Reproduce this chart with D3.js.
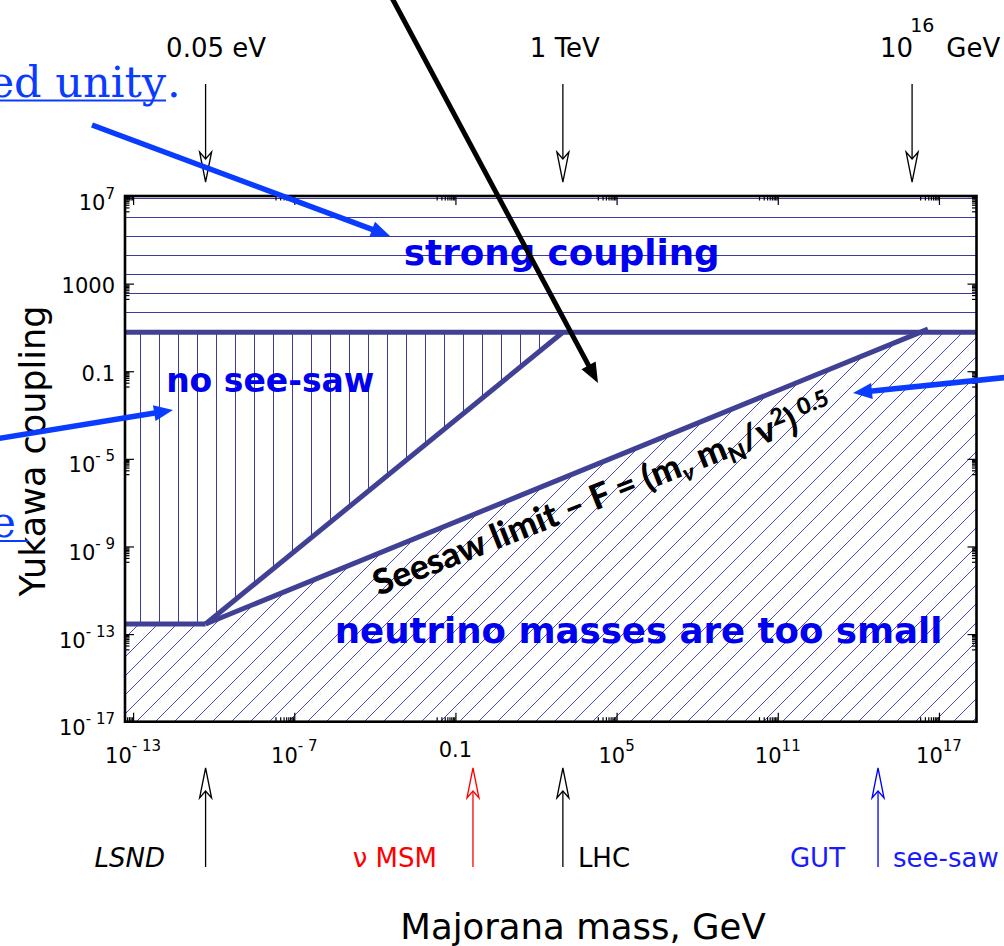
<!DOCTYPE html>
<html>
<head>
<meta charset="utf-8">
<script src="https://cdn.jsdelivr.net/npm/d3@7"></script>
<style>
  html, body { margin: 0; padding: 0; background: #fff; }
  svg { display: block; }
</style>
</head>
<body>
<svg id="chart" width="1004" height="946"></svg>
<script>
// ---- Axis domains and ticks -------------------------------------------
const massDomain = [5e-14, 2.5e18];        // Majorana mass, GeV
const couplingDomain = [1e-17, 1e7];       // Yukawa coupling
const massTicks = [1e-13, 1e-7, 1e-1, 1e5, 1e11, 1e17];
const massTickLabels = [["10", "- 13"], ["10", "- 7"], ["0.1", null], ["10", "5"], ["10", "11"], ["10", "17"]];
const couplingTicks = [1e7, 1e3, 1e-1, 1e-5, 1e-9, 1e-13, 1e-17];
const couplingTickLabels = [["10", "7"], ["1000", null], ["0.1", null], ["10", "- 5"], ["10", "- 9"], ["10", "- 13"], ["10", "- 17"]];

// ---- Boundaries (mass, coupling) -----------------------------------------
const strongLimit   = [[5e-14, 6], [2.5e18, 6]];
const lightLimit    = [[5e-14, 2.9e-13], [5e-11, 2.9e-13]];
const noSeesawEdge  = [[5e-11, 2.9e-13], [1e3, 6]];
const seesawEdge    = [[5e-11, 2.9e-13], [3.9e16, 8.4]];

// ---- Regions -------------------------------------------------------------
const strongRegion   = [[5e-14, 6], [2.5e18, 6], [2.5e18, 1e7], [5e-14, 1e7]];
const noSeesawRegion = [[5e-14, 6], [5e-14, 2.9e-13], [5e-11, 2.9e-13], [1e3, 6]];
const tooSmallRegion = [[5e-14, 1e-17], [5e-14, 2.9e-13], [5e-11, 2.9e-13], [2.2e16, 6], [2.5e18, 6], [2.5e18, 1e-17]];

// ---- Reference scales marked above and below the plot --------------------
const topMarkerMass   = [5e-11, 1e3, 1e16];
const topMarkerNames  = ["0.05 eV", "1 TeV", "10^16 GeV"];
const bottomMarkerMass  = [5e-11, 0.45, 1e3, 5.4e14];
const bottomMarkerNames = ["LSND", "νMSM", "LHC", "GUT|see-saw"];
const bottomMarkerColors = ["#000000", "#ff0000", "#000000", "#0000ff"];

// ---- Layout --------------------------------------------------------------
const W = 1004, H = 946;
const plot = { left: 125, right: 976.5, top: 196, bottom: 721.7 };
const lineColor = "#404095";
const hatchColor = "#3b3b9b";
const labelBlue = "#0000f0";
const linkBlue = "#0a3cff";

const svg = d3.select("#chart");
const x = d3.scaleLog().domain(massDomain).range([plot.left, plot.right]);
const y = d3.scaleLog().domain(couplingDomain).range([plot.bottom, plot.top]);
const line = d3.line().x(d => x(d[0])).y(d => y(d[1]));
const area = d3.line().x(d => x(d[0])).y(d => y(d[1])).curve(d3.curveLinearClosed);

// ---- Hatch patterns --------------------------------------------------------
const defs = svg.append("defs");
const step = 19;
const hp = defs.append("pattern").attr("id", "hatchH").attr("patternUnits", "userSpaceOnUse")
  .attr("width", step).attr("height", step).attr("x", 0).attr("y", 0);
hp.append("line").attr("x1", 0).attr("x2", step).attr("y1", 8.5).attr("y2", 8.5)
  .attr("stroke", hatchColor).attr("stroke-width", 1);
const vp = defs.append("pattern").attr("id", "hatchV").attr("patternUnits", "userSpaceOnUse")
  .attr("width", step).attr("height", step).attr("x", 0).attr("y", 0);
vp.append("line").attr("y1", 0).attr("y2", step).attr("x1", 7.5).attr("x2", 7.5)
  .attr("stroke", hatchColor).attr("stroke-width", 1);
const dp = defs.append("pattern").attr("id", "hatchD").attr("patternUnits", "userSpaceOnUse")
  .attr("width", step).attr("height", step).attr("x", 3).attr("y", 0);
dp.append("path").attr("d", `M0,${step} L${step},0 M${-step / 2},${step / 2} L${step / 2},${-step / 2} M${step / 2},${step * 1.5} L${step * 1.5},${step / 2}`)
  .attr("stroke", "#3636c0").attr("stroke-width", 0.9).attr("fill", "none");

defs.append("clipPath").attr("id", "plotClip").append("rect")
  .attr("x", plot.left).attr("y", plot.top)
  .attr("width", plot.right - plot.left).attr("height", plot.bottom - plot.top);

// ---- Regions and boundaries ----------------------------------------------
const g = svg.append("g").attr("clip-path", "url(#plotClip)");
g.append("path").attr("d", area(strongRegion)).attr("fill", "url(#hatchH)");
g.append("path").attr("d", area(noSeesawRegion)).attr("fill", "url(#hatchV)");
g.append("path").attr("d", area(tooSmallRegion)).attr("fill", "url(#hatchD)");

[strongLimit, lightLimit, noSeesawEdge, seesawEdge].forEach(pts => {
  g.append("path").attr("d", line(pts)).attr("fill", "none")
    .attr("stroke", lineColor).attr("stroke-width", 5).attr("stroke-linejoin", "round");
});

// ---- Axes: inward ticks on all four sides -----------------------------------
const inDomain = (d, dom) => d >= dom[0] * 0.9999 && d <= dom[1] * 1.0001;
const minorMass = massTicks.flatMap(t => d3.range(2, 10).map(s => s * t / 10)).filter(d => inDomain(d, massDomain));
const minorCoupling = couplingTicks.flatMap(t => d3.range(2, 10).map(s => s * t / 10)).filter(d => inDomain(d, couplingDomain));

function drawAxis(axisFn, scale, ticks, size, transform) {
  const a = svg.append("g").attr("transform", transform)
    .call(axisFn(scale).tickValues(ticks).tickSize(size).tickFormat(""));
  a.select(".domain").remove();
  a.selectAll(".tick line").attr("stroke", "#000").attr("stroke-width", 1.2);
}
drawAxis(d3.axisBottom, x, massTicks, -9, `translate(0,${plot.bottom})`);
drawAxis(d3.axisBottom, x, minorMass, -4.5, `translate(0,${plot.bottom})`);
drawAxis(d3.axisTop, x, massTicks, -9, `translate(0,${plot.top})`);
drawAxis(d3.axisTop, x, minorMass, -4.5, `translate(0,${plot.top})`);
drawAxis(d3.axisLeft, y, couplingTicks, -9, `translate(${plot.left},0)`);
drawAxis(d3.axisLeft, y, minorCoupling, -4.5, `translate(${plot.left},0)`);
drawAxis(d3.axisRight, y, couplingTicks, -9, `translate(${plot.right},0)`);
drawAxis(d3.axisRight, y, minorCoupling, -4.5, `translate(${plot.right},0)`);

svg.append("rect").attr("x", plot.left).attr("y", plot.top)
  .attr("width", plot.right - plot.left).attr("height", plot.bottom - plot.top)
  .attr("fill", "none").attr("stroke", "#000").attr("stroke-width", 2.6);

// ---- Tick labels -----------------------------------------------------------
const tickFont = "'DejaVu Sans', sans-serif";
massTicks.forEach((t, i) => {
  const [base, sup] = massTickLabels[i];
  const txt = svg.append("text").attr("x", x(t)).attr("y", sup ? 763 : 757)
    .attr("text-anchor", "middle").attr("font-family", tickFont).attr("font-size", 21).attr("fill", "#000");
  txt.append("tspan").text(base);
  if (sup) txt.append("tspan").attr("dy", -12).attr("font-size", 15).text(sup);
});
couplingTicks.forEach((t, i) => {
  const [base, sup] = couplingTickLabels[i];
  const txt = svg.append("text").attr("x", plot.left - 10).attr("y", y(t) + (sup ? 13.5 : 9.5))
    .attr("text-anchor", "end").attr("font-family", tickFont).attr("font-size", 21).attr("fill", "#000");
  txt.append("tspan").text(base);
  if (sup) txt.append("tspan").attr("dy", -11).attr("font-size", 15).text(sup);
});

// ---- Axis titles -------------------------------------------------------------
svg.append("text").attr("x", 583).attr("y", 939).attr("text-anchor", "middle")
  .attr("font-family", tickFont).attr("font-size", 35.5).text("Majorana mass, GeV");
svg.append("text").attr("transform", "translate(45,451) rotate(-90)").attr("text-anchor", "middle")
  .attr("font-family", tickFont).attr("font-size", 35).text("Yukawa coupling");

// ---- Region labels -------------------------------------------------------------
const regionLabels = [
  { text: "strong coupling", at: [1.2e-3, 7e3], size: 35.7 },
  { text: "no see-saw", at: [1.7e-12, 1.15e-2], size: 33 },
  { text: "neutrino masses are too small", at: [3.2e-6, 3.9e-14], size: 35.6 }
];
regionLabels.forEach(l => {
  svg.append("text").attr("x", x(l.at[0])).attr("y", y(l.at[1]))
    .attr("font-family", tickFont).attr("font-weight", "bold").attr("font-size", l.size)
    .attr("fill", labelBlue).text(l.text);
});

// Seesaw limit label, rotated along the boundary
{
  const ax = x(1.4e-4), ay = y(5.5e-12);
  const t = svg.append("text").attr("transform", `translate(${ax},${ay}) rotate(-21.5)`)
    .attr("font-family", "Lato, 'Open Sans', sans-serif").attr("font-weight", 900)
    .attr("font-size", 35).attr("fill", "#000");
  t.append("tspan").text("Seesaw limit – F = (m");
  t.append("tspan").attr("dy", 7).attr("font-size", 23).attr("font-style", "italic").text("ν");
  t.append("tspan").attr("dy", -7).text(" m");
  t.append("tspan").attr("dy", 7).attr("font-size", 23).text("N");
  t.append("tspan").attr("dy", -7).text("/v");
  t.append("tspan").attr("dy", -13).attr("font-size", 23).text("2");
  t.append("tspan").attr("dy", 13).text(")");
  t.append("tspan").attr("dy", -13).attr("font-size", 23).text(" 0.5");
}

// ---- Marker arrows (hollow notched heads) --------------------------------------
function hollowArrow(xp, yFrom, yTip, color) {
  const dir = yTip > yFrom ? 1 : -1;
  svg.append("line").attr("x1", xp).attr("x2", xp).attr("y1", yFrom).attr("y2", yTip - dir * 23)
    .attr("stroke", color).attr("stroke-width", 1.3);
  const p = [[xp, yTip], [xp - 6, yTip - dir * 30], [xp, yTip - dir * 23], [xp + 6, yTip - dir * 30]];
  svg.append("path").attr("d", "M" + p.map(q => q.join(",")).join("L") + "Z")
    .attr("fill", "#fff").attr("stroke", color).attr("stroke-width", 1.3).attr("stroke-linejoin", "miter");
}
topMarkerMass.forEach(m => hollowArrow(x(m), 84, 182, "#000"));
bottomMarkerMass.forEach((m, i) => hollowArrow(x(m), 867, 768, bottomMarkerColors[i]));

const mf = "'DejaVu Sans', sans-serif";
// top labels
svg.append("text").attr("x", x(topMarkerMass[0]) + 10.5).attr("y", 57).attr("text-anchor", "middle")
  .attr("font-family", mf).attr("font-size", 26).text(topMarkerNames[0]);
svg.append("text").attr("x", x(topMarkerMass[1]) + 2).attr("y", 57).attr("text-anchor", "middle")
  .attr("font-family", mf).attr("font-size", 26).text(topMarkerNames[1]);
{
  const t = svg.append("text").attr("x", x(topMarkerMass[2]) - 32).attr("y", 57)
    .attr("font-family", mf).attr("font-size", 26);
  t.append("tspan").text("10");
  t.append("tspan").attr("dx", -3).attr("dy", -25).attr("font-size", 19).text("16");
  t.append("tspan").attr("dx", 12).attr("dy", 25).text("GeV");
}
// bottom labels
const bl = [
  { i: 0, dx: -40.5, anchor: "end", text: "LSND", style: "italic" },
  { i: 1, dx: -36, anchor: "end", text: "ν MSM", style: "normal" },
  { i: 2, dx: 15, anchor: "start", text: "LHC", style: "normal" },
  { i: 3, dx: -33, anchor: "end", text: "GUT", style: "normal" },
  { i: 3, dx: 15, anchor: "start", text: "see-saw", style: "normal" }
];
bl.forEach(b => {
  svg.append("text").attr("x", x(bottomMarkerMass[b.i]) + b.dx).attr("y", 867)
    .attr("text-anchor", b.anchor).attr("font-family", mf).attr("font-size", 26)
    .attr("font-style", b.style).attr("fill", bottomMarkerColors[b.i] === "#0000ff" ? "#1a1aff" : bottomMarkerColors[b.i])
    .text(b.text);
});

// ---- Page overlay: pointers and link text -----------------------------------------
function solidArrow(x1, y1, x2, y2, color, w, hl, hw) {
  const dx = x2 - x1, dy = y2 - y1, len = Math.hypot(dx, dy);
  const ux = dx / len, uy = dy / len;
  const bx = x2 - ux * hl, by = y2 - uy * hl;
  svg.append("line").attr("x1", x1).attr("y1", y1).attr("x2", bx + ux * 2).attr("y2", by + uy * 2)
    .attr("stroke", color).attr("stroke-width", w);
  svg.append("path").attr("d",
    `M${x2},${y2}L${bx - uy * hw},${by + ux * hw}L${bx + uy * hw},${by - ux * hw}Z`)
    .attr("fill", color);
}
solidArrow(92, 125, 390, 236, linkBlue, 5.5, 19, 8);
solidArrow(-5, 439, 173, 410, linkBlue, 5.5, 19, 8);
solidArrow(1010, 377, 853, 393, linkBlue, 5.5, 19, 8);
solidArrow(392, -2, 598, 383, "#000", 5, 20, 8);

// Link fragments cut by the page edge
{
  svg.append("text").attr("x", 166).attr("y", 97).attr("text-anchor", "end")
    .attr("font-family", "'DejaVu Serif', serif").attr("font-size", 43).attr("fill", linkBlue)
    .text("ed unity");
  svg.append("line").attr("x1", 0).attr("x2", 166).attr("y1", 100.5).attr("y2", 100.5)
    .attr("stroke", linkBlue).attr("stroke-width", 2);
  svg.append("text").attr("x", 167).attr("y", 97).attr("font-family", "'DejaVu Serif', serif")
    .attr("font-size", 43).attr("fill", linkBlue).text(".");
  svg.append("text").attr("x", 16).attr("y", 537).attr("text-anchor", "end")
    .attr("font-family", "'DejaVu Serif', serif").attr("font-size", 43).attr("fill", linkBlue).text("e");
  svg.append("line").attr("x1", 0).attr("x2", 28).attr("y1", 541).attr("y2", 541)
    .attr("stroke", linkBlue).attr("stroke-width", 2);
}
</script>
</body>
</html>
